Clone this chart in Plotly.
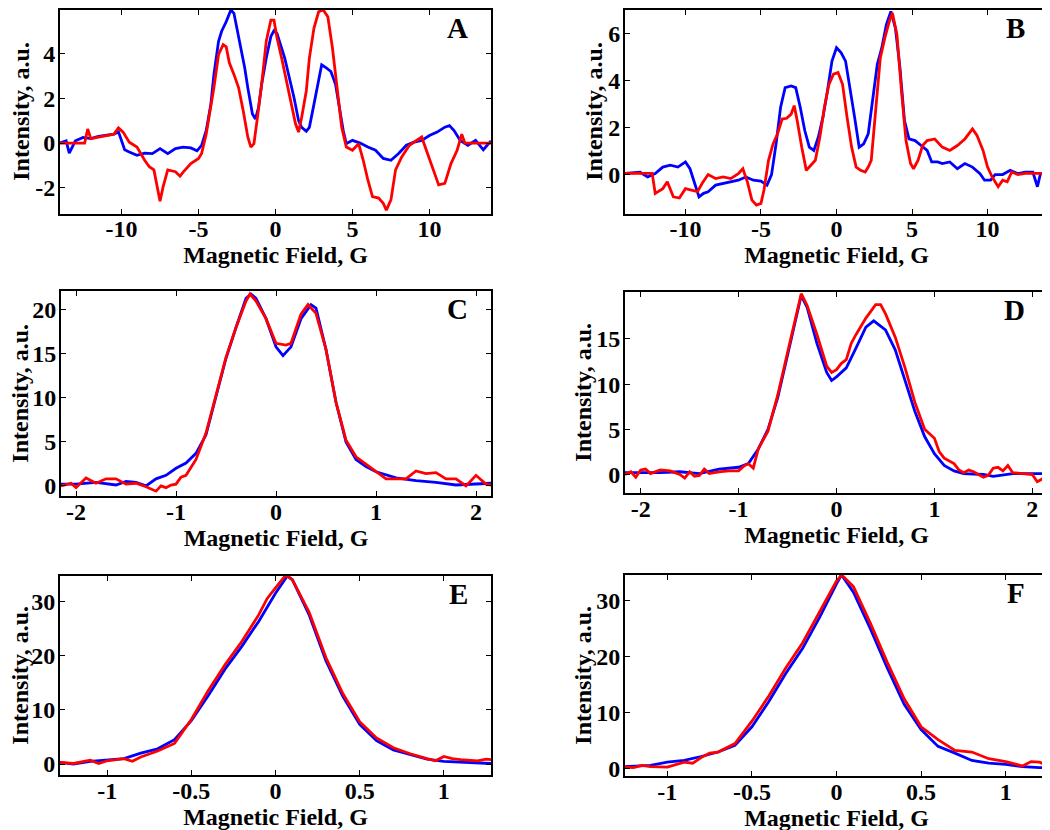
import plotly.graph_objects as go

# ---- panel A ----
a_blue_x = [-14, -13.6, -13.4, -13, -12.5, -12, -11.5, -11, -10.5, -10.2, -9.8, -9.5, -9, -8.5, -8, -7.5, -7, -6.5,
            -6, -5.5, -5.1, -4.8, -4.5, -4.2, -4, -3.7, -3.5, -3.2, -2.9, -2.7, -2.5, -2.2, -2, -1.8, -1.5, -1.3,
            -1.1, -0.9, -0.6, -0.3, -0.1, 0.1, 0.3, 0.6, 0.9, 1.2, 1.5, 1.7, 2, 2.2, 2.5, 2.8, 3, 3.3, 3.6, 3.9,
            4.2, 4.4, 4.6, 5, 5.5, 6, 6.5, 7, 7.5, 8, 8.5, 9, 9.5, 10, 10.5, 11, 11.3, 11.6, 12, 12.5, 13, 13.5, 14]
a_blue_y = [0.0, 0.1, -0.45, 0.1, 0.25, 0.2, 0.3, 0.35, 0.4, 0.5, -0.3, -0.4, -0.55, -0.45, -0.47, -0.25, -0.47, -0.25,
            -0.18, -0.22, -0.35, -0.1, 0.56, 1.74, 3.07, 4.55, 5.0, 5.43, 5.95, 5.8, 5.14, 4.1, 3.37, 2.48, 1.3, 1.08,
            1.6, 2.63, 3.8, 4.77, 5.02, 4.9, 4.47, 3.8, 2.92, 2.04, 1.0, 0.7, 0.53, 0.7, 1.74, 2.85, 3.5, 3.36, 3.2, 2.63,
            1.3, 0.56, -0.03, 0.12, 0.0, -0.18, -0.32, -0.69, -0.77, -0.47, -0.1, 0.04, 0.12, 0.34, 0.49, 0.71, 0.78, 0.56, 0.12, -0.1, 0.12, -0.3, 0.1]
a_red_x = [-14, -12.4, -12.2, -12, -11.5, -11, -10.5, -10.2, -9.9, -9.5, -9, -8.5, -8.2, -7.9, -7.7, -7.5, -7.3, -7,
           -6.5, -6.2, -6, -5.5, -5, -4.8, -4.5, -4.2, -4, -3.7, -3.4, -3.2, -3, -2.7, -2.4, -2.1, -1.8, -1.6, -1.4,
           -1.2, -0.9, -0.6, -0.3, -0.1, 0.1, 0.4, 0.7, 1, 1.3, 1.5, 1.7, 2, 2.2, 2.5, 2.8, 3.1, 3.4, 3.7, 4, 4.3,
           4.6, 5, 5.4, 5.7, 6, 6.3, 6.7, 7, 7.2, 7.5, 7.8, 8.2, 8.7, 9.2, 9.5, 9.8, 10.2, 10.6, 11, 11.4, 11.8, 12.1,
           12.3, 12.6, 14]
a_red_y = [0.0, 0.0, 0.63, 0.2, 0.27, 0.34, 0.4, 0.68, 0.49, 0.04, -0.18, -0.77, -1.06, -1.2, -1.95, -2.6, -1.95, -1.2,
           -1.28, -1.48, -1.3, -0.92, -0.69, -0.47, 0.41, 1.6, 2.48, 3.96, 4.4, 4.3, 3.59, 3.07, 2.48, 1.45, 0.27, -0.18, -0.03,
           1.0, 2.63, 4.55, 5.5, 5.5, 4.7, 3.8, 2.77, 1.74, 0.86, 0.49, 1.15, 2.33, 3.8, 5.14, 5.87, 5.95, 5.65, 4.25, 2.48, 0.71,
           -0.18, -0.32, -0.03, -0.77, -1.65, -2.39, -2.46, -2.69, -3.0, -2.54, -1.2, -0.62, -0.1, 0.12, 0.27, -0.32, -1.06, -1.87, -1.8, -0.92, -0.32, 0.4,
           0.0, 0.0, 0.0]

# ---- panel B ----
b_blue_x = [-14, -13, -12.5, -12, -11.5, -11, -10.5, -10, -9.7, -9.4, -9.1, -8.8, -8.5, -8, -7.5, -7, -6.5, -6, -5.5,
            -5, -4.6, -4.3, -4, -3.7, -3.4, -3, -2.7, -2.4, -2.1, -1.8, -1.5, -1.2, -0.9, -0.6, -0.3, 0, 0.3, 0.6, 0.9,
            1.2, 1.5, 1.8, 2.1, 2.4, 2.7, 3, 3.3, 3.6, 3.9, 4.2, 4.5, 4.8, 5.2, 5.6, 6, 6.3, 6.7, 7, 7.5, 8, 8.5, 9,
            9.5, 9.8, 10.2, 10.5, 11, 11.5, 12, 12.5, 13, 13.3, 13.5, 14]
b_blue_y = [0.05, 0.1, -0.1, 0.04, 0.32, 0.4, 0.32, 0.54, 0.25, -0.38, -0.95, -0.8, -0.73, -0.45, -0.38, -0.31, -0.24, -0.1, -0.24,
            -0.28, -0.45, 0.0, 1.31, 2.87, 3.71, 3.78, 3.71, 2.87, 1.88, 1.17, 1.03, 1.6, 2.44, 3.57, 4.84, 5.41, 5.2, 4.84, 3.71,
            2.44, 1.17, 1.31, 1.74, 3.15, 4.7, 5.41, 6.4, 6.96, 6.25, 4.56, 2.3, 1.52, 1.45, 1.24, 1.03, 0.54, 0.54, 0.47, 0.54, 0.25, 0.47, 0.32,
            0.04, -0.24, -0.24, 0.0, 0.0, 0.18, 0.04, 0.1, 0.1, -0.52, 0.04, 0.05]
b_red_x = [-14, -12.2, -12, -11.5, -11.2, -10.8, -10.4, -10, -9.6, -9.2, -8.9, -8.5, -8, -7.5, -7, -6.5, -6.2, -5.9, -5.6,
           -5.3, -5, -4.8, -4.5, -4.2, -3.9, -3.6, -3.3, -3, -2.8, -2.6, -2.3, -2, -1.7, -1.4, -1.1, -0.8, -0.5, -0.2, 0.1,
           0.4, 0.7, 1, 1.3, 1.6, 1.9, 2.1, 2.3, 2.6, 2.9, 3.2, 3.5, 3.7, 4, 4.3, 4.6, 4.9, 5.1, 5.4, 5.7, 6, 6.5, 7,
           7.5, 8, 8.5, 9, 9.3, 9.7, 10, 10.3, 10.7, 11, 11.3, 11.6, 12, 12.5, 14]
b_red_y = [0.05, 0.05, -0.8, -0.6, -0.31, -0.95, -1.0, -0.6, -0.66, -0.73, -0.38, 0.0, -0.17, -0.1, -0.17, 0.04, 0.25, -0.31, -1.09,
           -1.3, -1.23, -0.66, 0.61, 1.31, 1.74, 2.37, 2.4, 2.58, 2.94, 2.3, 1.17, 0.18, 0.4, 0.61, 1.6, 2.87, 3.85, 4.28, 4.35,
           3.85, 2.44, 1.17, 0.32, 0.18, 0.11, 0.32, 0.61, 2.87, 4.98, 5.83, 6.54, 6.89, 5.97, 3.57, 1.45, 0.47, 0.25, 0.61, 1.24, 1.45, 1.52, 1.17,
           1.03, 1.24, 1.52, 1.95, 1.67, 1.03, 0.32, -0.1, -0.52, -0.24, -0.31, 0.11, 0.0, 0.05, 0.05]

# ---- panel C ----
c_blue_x = [-2.15, -2.0, -1.8, -1.6, -1.5, -1.4, -1.3, -1.2, -1.1, -1.0, -0.9, -0.8, -0.7, -0.6, -0.5, -0.4, -0.3, -0.25,
            -0.2, -0.1, 0.0, 0.07, 0.15, 0.25, 0.35, 0.4, 0.5, 0.6, 0.7, 0.8, 0.9, 1.0, 1.2, 1.4, 1.6, 1.8, 2.0, 2.15]
c_blue_y = [0.2, 0.2, 0.4, 0.1, 0.5, 0.4, 0.0, 0.8, 1.2, 2.0, 2.6, 3.7, 5.8, 10.0, 14.5, 18.0, 21.3, 21.8,
            21.3, 19.0, 15.8, 14.8, 15.8, 19.0, 20.6, 20.2, 15.5, 9.5, 5.0, 3.0, 2.2, 1.6, 0.9, 0.6, 0.4, 0.1, 0.2, 0.3]
c_red_x = [-2.15, -2.05, -2.0, -1.9, -1.8, -1.7, -1.6, -1.5, -1.4, -1.3, -1.2, -1.15, -1.1, -1.05, -1.0, -0.95, -0.9, -0.8,
           -0.7, -0.6, -0.5, -0.4, -0.3, -0.26, -0.2, -0.1, 0.0, 0.1, 0.15, 0.25, 0.32, 0.4, 0.5, 0.6, 0.7, 0.8, 0.9, 1.0,
           1.1, 1.2, 1.3, 1.4, 1.5, 1.6, 1.7, 1.8, 1.9, 2.0, 2.1, 2.15]
c_red_y = [0.0, 0.3, -0.2, 0.9, 0.3, 0.8, 0.8, 0.2, 0.3, -0.1, -0.6, 0.0, -0.2, 0.1, 0.2, 1.0, 1.2, 3.0,
           6.0, 10.2, 14.6, 18.0, 21.0, 21.8, 21.0, 19.0, 16.2, 16.0, 16.2, 19.5, 20.6, 19.6, 15.5, 9.5, 5.2, 3.3, 2.5, 1.6,
           0.8, 0.8, 0.8, 1.7, 1.4, 1.5, 0.8, 0.8, 0.0, 1.2, 0.2, 0.1]

# ---- panel D ----
d_blue_x = [-2.16, -1.8, -1.6, -1.4, -1.2, -1.0, -0.9, -0.8, -0.7, -0.6, -0.5, -0.4, -0.36, -0.3, -0.2, -0.1, -0.05, 0.0,
            0.1, 0.2, 0.3, 0.38, 0.5, 0.6, 0.7, 0.8, 0.9, 1.0, 1.1, 1.2, 1.3, 1.5, 1.6, 1.8, 2.0, 2.16]
d_blue_y = [0.2, 0.2, 0.3, 0.1, 0.6, 0.8, 1.2, 2.8, 5.0, 8.5, 13.2, 18.0, 19.8, 18.5, 14.5, 11.3, 10.4, 10.8,
            11.8, 14.0, 16.3, 17.0, 16.0, 13.8, 10.5, 7.0, 4.2, 2.3, 1.0, 0.4, 0.1, 0.0, -0.2, 0.1, 0.1, 0.1]
d_red_x = [-2.16, -2.1, -2.05, -2.0, -1.95, -1.9, -1.8, -1.7, -1.6, -1.55, -1.5, -1.45, -1.4, -1.35, -1.3, -1.2, -1.1, -1.0,
           -0.95, -0.9, -0.85, -0.8, -0.7, -0.6, -0.5, -0.4, -0.36, -0.3, -0.2, -0.1, -0.05, 0.0, 0.05, 0.1, 0.15, 0.2,
           0.3, 0.4, 0.45, 0.5, 0.6, 0.7, 0.8, 0.9, 1.0, 1.05, 1.1, 1.2, 1.25, 1.3, 1.35, 1.4, 1.5, 1.55, 1.6, 1.65, 1.7,
           1.75, 1.8, 1.9, 2.0, 2.05, 2.1, 2.16]
d_red_y = [0.0, 0.3, -0.3, 0.5, 0.6, 0.1, 0.5, 0.4, 0.0, -0.4, 0.3, -0.2, -0.1, 0.6, 0.1, 0.3, 0.4, 0.4,
           0.9, 1.2, 0.7, 2.8, 4.8, 8.8, 13.5, 18.3, 20.0, 18.7, 15.5, 12.0, 11.3, 11.6, 12.3, 12.7, 14.5, 15.5,
           17.3, 18.8, 18.8, 17.8, 15.2, 11.8, 8.0, 5.0, 4.0, 2.5, 1.8, 1.2, 0.5, 0.2, 0.5, 0.3, -0.3, -0.1, 0.7, 0.8, 0.4,
           1.0, 0.2, 0.1, 0.0, -0.8, -0.5, 0.1]

# ---- panel E ----
e_blue_x = [-1.28, -1.2, -1.1, -1.0, -0.9, -0.8, -0.7, -0.6, -0.5, -0.4, -0.3, -0.2, -0.1, 0.0, 0.07, 0.1, 0.2, 0.3,
            0.4, 0.5, 0.6, 0.7, 0.8, 0.9, 1.0, 1.1, 1.2, 1.28]
e_blue_y = [0.3, 0.0, 0.5, 0.8, 1.0, 2.0, 2.8, 4.5, 8.0, 12.6, 17.5, 21.7, 26.3, 31.5, 34.7, 34.0, 27.5, 19.0,
            12.5, 7.3, 4.3, 2.6, 1.7, 0.9, 0.5, 0.4, 0.2, 0.1]
e_red_x = [-1.28, -1.2, -1.1, -1.05, -1.0, -0.9, -0.85, -0.8, -0.7, -0.6, -0.5, -0.4, -0.3, -0.2, -0.1, -0.05, 0.0, 0.06,
           0.1, 0.2, 0.3, 0.4, 0.5, 0.6, 0.7, 0.8, 0.9, 0.95, 1.0, 1.05, 1.1, 1.2, 1.25, 1.28]
e_red_y = [0.3, 0.1, 0.7, 0.1, 0.6, 1.0, 0.5, 1.3, 2.4, 3.8, 8.2, 13.5, 18.3, 22.6, 27.5, 30.5, 32.5, 34.8,
           34.0, 28.0, 19.6, 13.0, 7.8, 4.8, 3.0, 1.9, 1.0, 0.6, 1.4, 1.0, 0.8, 0.6, 0.9, 0.8]

# ---- panel F ----
f_blue_x = [-1.25, -1.1, -1.0, -0.9, -0.8, -0.7, -0.6, -0.5, -0.4, -0.3, -0.2, -0.1, 0.0, 0.03, 0.1, 0.2, 0.3, 0.4,
            0.5, 0.6, 0.7, 0.8, 0.9, 1.0, 1.1, 1.2, 1.25]
f_blue_y = [0.4, 0.6, 1.2, 1.5, 2.2, 3.0, 4.2, 7.5, 12.0, 17.0, 21.5, 27.0, 33.0, 34.6, 31.5, 25.0, 18.0, 11.5,
            7.0, 4.0, 2.8, 1.5, 1.0, 0.8, 0.4, 0.2, 0.3]
f_red_x = [-1.25, -1.2, -1.15, -1.1, -1.0, -0.9, -0.85, -0.8, -0.75, -0.7, -0.6, -0.5, -0.4, -0.3, -0.2, -0.1, 0.0, 0.03,
           0.1, 0.2, 0.3, 0.4, 0.5, 0.6, 0.7, 0.8, 0.9, 1.0, 1.1, 1.15, 1.2, 1.25]
f_red_y = [0.3, 0.2, 0.6, 0.4, 0.3, 1.2, 1.0, 2.0, 2.8, 3.0, 4.5, 8.5, 13.0, 18.0, 22.5, 28.0, 33.5, 34.6,
           32.5, 26.0, 19.0, 12.5, 7.5, 5.2, 3.3, 3.0, 1.8, 1.3, 0.5, 1.3, 1.2, 0.5]

panel_labels = ["A", "B", "C", "D", "E", "F"]
x_ranges = [[-14, 14], [-14, 14], [-2.15, 2.15], [-2.16, 2.16], [-1.28, 1.28], [-1.25, 1.25]]
y_ranges = [[-3.15, 5.95], [-1.66, 7.02], [-1.2, 22.15], [-2.1, 20.2], [-2.1, 34.7], [-1.35, 34.6]]
x_tick_vals = [[-10, -5, 0, 5, 10]] * 2 + [[-2, -1, 0, 1, 2]] * 2 + [[-1, -0.5, 0, 0.5, 1]] * 2
x_tick_text = [["-10", "-5", "0", "5", "10"]] * 2 + [["-2", "-1", "0", "1", "2"]] * 2 + [["-1", "-0.5", "0", "0.5", "1"]] * 2
y_tick_vals = [[-2, 0, 2, 4], [0, 2, 4, 6], [0, 5, 10, 15, 20], [0, 5, 10, 15], [0, 10, 20, 30], [0, 10, 20, 30]]
y_tick_text = [["-2", "0", "2", "4"], ["0", "2", "4", "6"], ["0", "5", "10", "15", "20"], ["0", "5", "10", "15"],
               ["0", "10", "20", "30"], ["0", "10", "20", "30"]]

series = [
    (a_blue_x, a_blue_y, a_red_x, a_red_y),
    (b_blue_x, b_blue_y, b_red_x, b_red_y),
    (c_blue_x, c_blue_y, c_red_x, c_red_y),
    (d_blue_x, d_blue_y, d_red_x, d_red_y),
    (e_blue_x, e_blue_y, e_red_x, e_red_y),
    (f_blue_x, f_blue_y, f_red_x, f_red_y),
]

# pixel boxes of the six panels (left, right, top, bottom) in a 1050x830 page
W, H = 1050, 830
boxes = [(52, 483, 2, 207), (617, 1040, 2, 207),
         (53, 483, 285, 492), (617, 1040, 286, 489),
         (52, 483, 572, 773), (617, 1040, 571, 774)]
# pixel x (annotation anchor) of each rotated y title
y_title_x = [13, 586, 12, 575, 12, 575]

FONT = "Liberation Serif, Times New Roman, serif"
BOLD = dict(family=FONT, size=24, color="black", weight="bold")

fig = go.Figure()
layout = dict(
    width=W, height=H,
    margin=dict(l=0, r=0, t=0, b=0),
    paper_bgcolor="white", plot_bgcolor="white",
    showlegend=False,
    font=BOLD,
)
annotations = []

for i, (bx, by, rx, ry) in enumerate(series):
    n = "" if i == 0 else str(i + 1)
    xa, ya = "x" + n, "y" + n
    fig.add_trace(go.Scatter(x=bx, y=by, mode="lines", line=dict(color="#0000ff", width=2.8),
                             xaxis=xa, yaxis=ya))
    fig.add_trace(go.Scatter(x=rx, y=ry, mode="lines", line=dict(color="#ff0000", width=2.8),
                             xaxis=xa, yaxis=ya))
    l, r, t, b = boxes[i]
    common = dict(showline=True, linecolor="black", linewidth=2, mirror="ticks",
                  ticks="inside", ticklen=5, tickwidth=1, tickcolor="black",
                  showgrid=False, zeroline=False, tickfont=BOLD)
    layout["xaxis" + n] = dict(
        common, domain=[l / W, r / W], anchor=ya, range=x_ranges[i],
        tickvals=x_tick_vals[i], ticktext=x_tick_text[i], ticklabelstandoff=-7,
        title=dict(text="Magnetic Field, G", standoff=0, font=BOLD))
    layout["yaxis" + n] = dict(
        common, domain=[1 - b / H, 1 - t / H], anchor=xa, range=y_ranges[i],
        tickvals=y_tick_vals[i], ticktext=y_tick_text[i], ticklabelstandoff=-2)
    # rotated y title placed as an annotation
    annotations.append(dict(text="Intensity, a.u.", xref="paper", yref=ya + " domain",
                            x=y_title_x[i] / W, y=0.5, xanchor="center", yanchor="middle",
                            textangle=-90, showarrow=False, font=BOLD))
    annotations.append(dict(text=panel_labels[i], xref=xa + " domain", yref=ya + " domain",
                            x=1, y=1, xanchor="right", yanchor="top", xshift=-21, yshift=0,
                            showarrow=False,
                            font=dict(family=FONT, size=29, color="black", weight="bold")))

layout["annotations"] = annotations
fig.update_layout(**layout)
fig.write_html("out.html")
